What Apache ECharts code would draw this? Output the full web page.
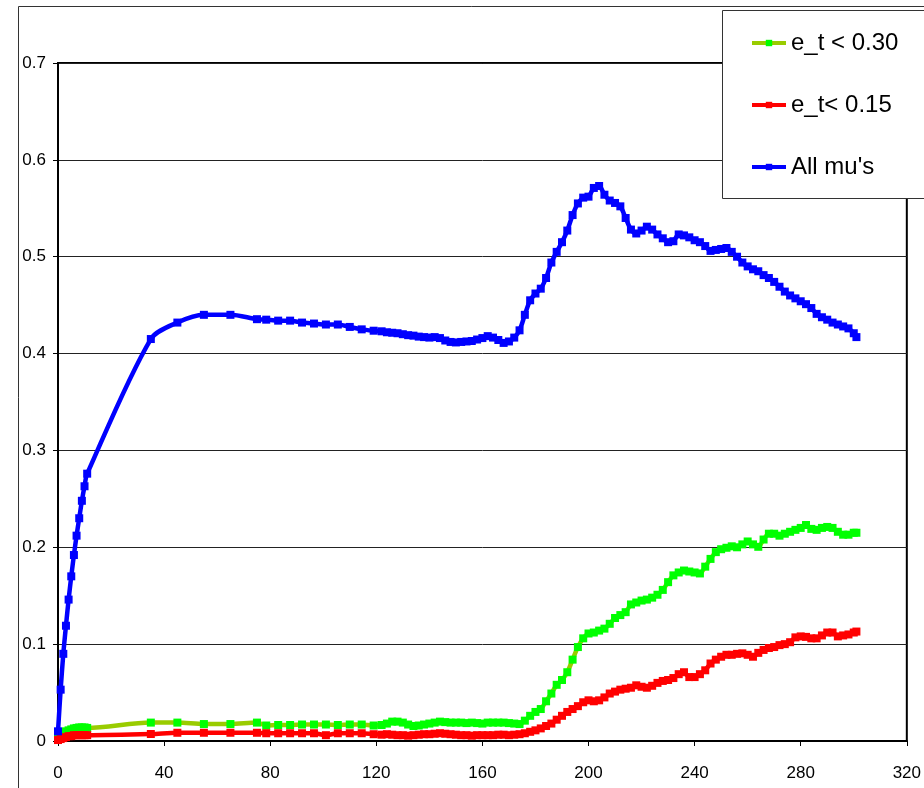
<!DOCTYPE html>
<html>
<head>
<meta charset="utf-8">
<script src="https://cdn.jsdelivr.net/npm/echarts@6/dist/echarts.min.js"></script>
<style>html,body{margin:0;padding:0;background:#fff;}#c{width:924px;height:788px;}</style>
</head>
<body>
<div id="c"></div>
<script>
var seriesNames = ['e_t < 0.30', 'e_t< 0.15', "All mu's"];
var xTicks = [0, 40, 80, 120, 160, 200, 240, 280, 320];
var yTicks = [0, 0.1, 0.2, 0.3, 0.4, 0.5, 0.6, 0.7];

var xs = [0,1,2,3,4,5,6,7,8,9,10,11,
  35,45,55,65,75,
  78.5,83,87.5,92,96.5,101,105.5,110,114.5,119,
  122,124,126,128,130,132,134,136,138,140,
  142,144,146,148,150,152,154,156,158,160,
  162,164,166,168,170,172,174,176,178,180,
  182,184,186,188,190,192,194,196,198,200,
  202,204,206,208,210,212,214,216,218,220,
  222,224,226,228,230,232,234,236,238,240,
  242,244,246,248,250,252,254,256,258,260,
  262,264,266,268,270,272,274,276,278,280,
  282,284,286,288,290,292,294,296,298,300,
  301];

var greenVals = [0.003,0.007,0.009,0.01,0.011,0.012,0.013,0.0135,0.014,0.014,0.014,0.0135,
  0.019,0.019,0.0175,0.0175,0.019,
  0.016,0.0165,0.0165,0.017,0.017,0.017,0.0165,0.017,0.017,0.016,
  0.0165,0.018,0.02,0.02,0.019,0.017,0.0155,0.016,0.017,0.018,
  0.019,0.02,0.0195,0.019,0.019,0.019,0.0185,0.019,0.0185,0.018,
  0.019,0.019,0.019,0.019,0.0185,0.018,0.0175,0.021,0.026,0.03,
  0.033,0.041,0.049,0.058,0.063,0.071,0.084,0.097,0.106,0.111,
  0.112,0.114,0.116,0.121,0.127,0.13,0.133,0.141,0.143,0.145,
  0.146,0.148,0.151,0.156,0.164,0.171,0.174,0.176,0.175,0.174,
  0.173,0.18,0.188,0.195,0.198,0.1995,0.201,0.2,0.203,0.206,
  0.203,0.2005,0.208,0.214,0.214,0.212,0.214,0.216,0.218,0.22,
  0.223,0.219,0.218,0.22,0.221,0.22,0.216,0.213,0.213,0.215,
  0.215];

var redVals = [0.001,0.002,0.003,0.004,0.005,0.005,0.006,0.006,0.006,0.006,0.006,0.006,
  0.0072,0.0085,0.0085,0.0085,0.0085,
  0.008,0.008,0.008,0.008,0.008,0.006,0.008,0.008,0.008,0.007,
  0.0065,0.007,0.0065,0.006,0.006,0.0055,0.006,0.0065,0.007,0.007,
  0.0075,0.008,0.0075,0.007,0.0065,0.006,0.006,0.0055,0.006,0.006,
  0.006,0.006,0.0065,0.0065,0.006,0.0065,0.007,0.008,0.0095,0.011,
  0.013,0.0155,0.018,0.022,0.026,0.03,0.033,0.036,0.04,0.042,
  0.041,0.042,0.045,0.049,0.051,0.053,0.054,0.055,0.0575,0.056,
  0.055,0.057,0.06,0.062,0.063,0.065,0.069,0.071,0.066,0.066,
  0.069,0.073,0.08,0.084,0.087,0.089,0.089,0.09,0.0905,0.089,
  0.087,0.091,0.094,0.096,0.097,0.099,0.1,0.102,0.107,0.108,
  0.1075,0.106,0.106,0.109,0.112,0.112,0.108,0.109,0.11,0.112,
  0.113];

var blueVals = [0.01,0.053,0.09,0.119,0.146,0.17,0.192,0.212,0.23,0.248,0.263,0.276,
  0.415,0.432,0.44,0.44,0.4355,
  0.435,0.434,0.434,0.432,0.431,0.43,0.43,0.4275,0.425,0.4236,
  0.423,0.422,0.4215,0.421,0.42,0.419,0.4185,0.4175,0.417,0.4165,
  0.417,0.416,0.4135,0.412,0.4115,0.412,0.4125,0.413,0.4145,0.416,
  0.418,0.4165,0.414,0.411,0.4125,0.4165,0.424,0.44,0.455,0.462,
  0.467,0.478,0.494,0.505,0.515,0.527,0.543,0.555,0.561,0.562,
  0.571,0.573,0.564,0.558,0.5555,0.552,0.54,0.528,0.524,0.527,
  0.531,0.528,0.523,0.519,0.515,0.516,0.523,0.522,0.52,0.517,
  0.515,0.511,0.506,0.507,0.508,0.509,0.505,0.5,0.494,0.49,
  0.487,0.485,0.481,0.478,0.474,0.469,0.464,0.46,0.457,0.454,
  0.451,0.447,0.441,0.4375,0.435,0.432,0.43,0.428,0.426,0.421,
  0.417];

function pairs(vals) {
  return xs.map(function (x, i) { return [x, vals[i]]; });
}

var FONT = '"Liberation Sans", Arial, sans-serif';

function mkSeries(name, vals, lineColor, markColor) {
  return {
    name: name,
    type: 'line',
    data: pairs(vals),
    smooth: 0.3,
    symbol: 'rect',
    symbolSize: 8,
    showAllSymbol: true,
    lineStyle: { color: lineColor, width: 4.5 },
    itemStyle: { color: markColor },
    emphasis: { disabled: true }
  };
}

var chart = echarts.init(document.getElementById('c'), null, { renderer: 'canvas' });
chart.setOption({
  animation: false,
  backgroundColor: '#fff',
  textStyle: { fontFamily: FONT },
  grid: {
    left: 58, right: 12, top: 63, bottom: 47,
    show: true, borderColor: '#000', borderWidth: 2, backgroundColor: 'transparent'
  },
  xAxis: {
    type: 'value',
    min: xTicks[0], max: xTicks[xTicks.length - 1], interval: 40,
    axisLine: { show: true, onZero: false, lineStyle: { color: '#000', width: 2 } },
    axisTick: { show: true, length: 5, lineStyle: { color: '#000', width: 1 } },
    axisLabel: { color: '#000', fontSize: 17, fontFamily: FONT, margin: 24, showMaxLabel: true, hideOverlap: false },
    splitLine: { show: false }
  },
  yAxis: {
    type: 'value',
    min: yTicks[0], max: yTicks[yTicks.length - 1], interval: 0.1,
    axisLine: { show: true, lineStyle: { color: '#000', width: 2 } },
    axisTick: { show: true, length: 5, lineStyle: { color: '#000', width: 1 } },
    axisLabel: { color: '#000', fontSize: 17, fontFamily: FONT, margin: 12 },
    splitLine: { show: true, lineStyle: { color: '#222', width: 1 } }
  },
  legend: {
    orient: 'vertical',
    left: 745, top: 26,
    itemWidth: 34, itemHeight: 8,
    itemGap: 38,
    z: 20,
    lineStyle: { width: 4 },
    textStyle: { color: '#000', fontSize: 24, fontFamily: FONT, lineHeight: 24 },
    data: seriesNames
  },
  graphic: [
    { type: 'rect', z: -1, silent: true, shape: { x: 18.5, y: 6.5, width: 1000, height: 1000 },
      style: { fill: 'none', stroke: '#333', lineWidth: 1 } },
    { type: 'rect', z: 15, silent: true, shape: { x: 722.5, y: 10.5, width: 240, height: 188 },
      style: { fill: '#fff', stroke: '#333', lineWidth: 1 } }
  ],
  series: [
    mkSeries(seriesNames[0], greenVals, '#99CC00', '#00FF00'),
    mkSeries(seriesNames[1], redVals, '#FF0000', '#FF0000'),
    mkSeries(seriesNames[2], blueVals, '#0000FF', '#0000FF')
  ]
});
</script>
</body>
</html>
